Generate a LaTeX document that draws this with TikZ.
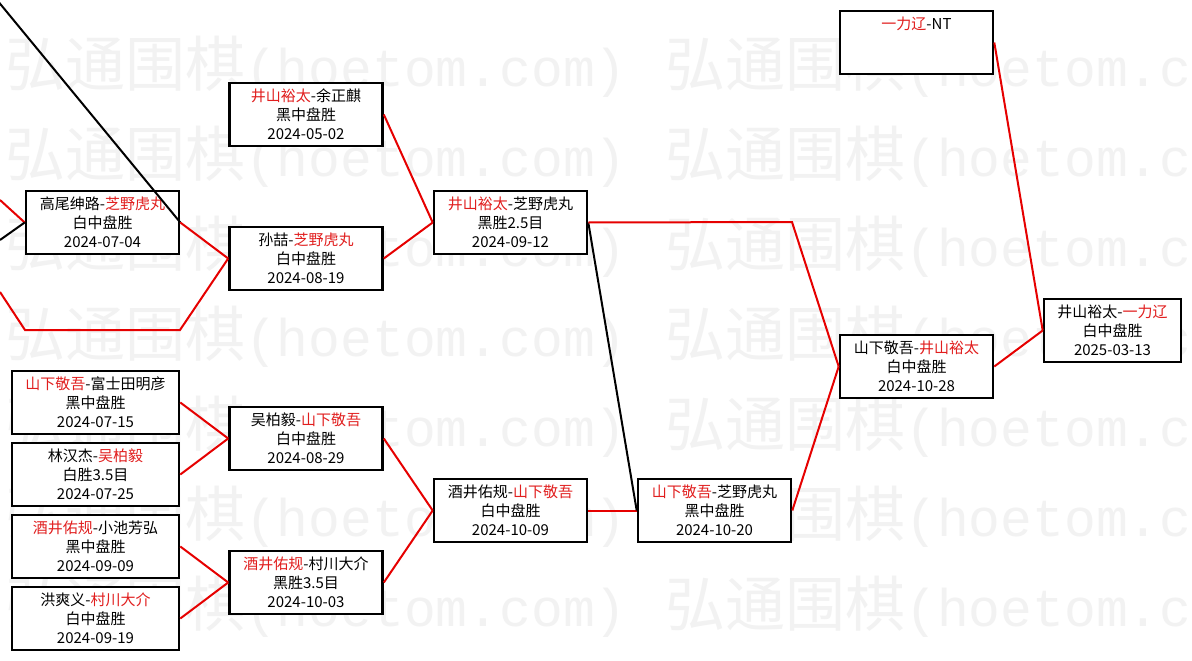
\documentclass[tikz,border=0pt]{standalone}
\usepackage{fontspec}
\setmainfont{Noto Sans CJK SC}
\newfontfamily\wmfont{Liberation Mono}
\definecolor{winred}{RGB}{230,0,0}
\definecolor{namered}{RGB}{225,30,30}
\newcommand{\rn}[1]{\textcolor{namered}{#1}}

\begin{document}
\begin{tikzpicture}[x=1pt,y=-1pt,
    match/.style={draw, line width=2.6pt, fill=white, minimum width=153pt, minimum height=63pt,
      inner sep=0pt, align=center, font=\fontsize{15}{19}\selectfont},
    wide/.style={minimum width=167pt},
    narrow/.style={minimum width=137pt},
    win/.style={winred, line width=2pt},
    lose/.style={black, line width=2pt},
    watermark/.style={anchor=west, inner sep=0pt, text=black!5}]
    \useasboundingbox[fill=white] (0,0) rectangle (1192,661);
    % Watermark
    \foreach \r in {0,...,6}
      \foreach \c in {0,1}
        \node[watermark] (wm-\r-\c) at (5+660*\c, 67+90*\r)
          {\fontsize{60}{60}\selectfont 弘通围棋\wmfont\fontsize{53}{53}\selectfont(hoetom.com)};
    % Left column
    \node[match] (takao) at (102.5,222.5) {高尾绅路-\rn{芝野虎丸}\\白中盘胜\\2024-07-04};
    \node[match,wide] (fujita) at (95.5,402.5) {\rn{山下敬吾}-富士田明彦\\黑中盘胜\\2024-07-15};
    \node[match,wide] (lin) at (95.5,474.5) {林汉杰-\rn{吴柏毅}\\白胜3.5目\\2024-07-25};
    \node[match,wide] (koike) at (95.5,546.5) {\rn{酒井佑规}-小池芳弘\\黑中盘胜\\2024-09-09};
    \node[match,wide] (hong) at (95.5,618.5) {洪爽义-\rn{村川大介}\\白中盘胜\\2024-09-19};
    % Second column
    \node[match] (yu) at (306,114.5) {\rn{井山裕太}-余正麒\\黑中盘胜\\2024-05-02};
    \node[match] (sun) at (306,258.5) {孙喆-\rn{芝野虎丸}\\白中盘胜\\2024-08-19};
    \node[match] (wu) at (306,438.5) {吴柏毅-\rn{山下敬吾}\\白中盘胜\\2024-08-29};
    \node[match] (murakawa) at (306,582.5) {\rn{酒井佑规}-村川大介\\黑胜3.5目\\2024-10-03};
    % Third column
    \node[match] (shibanoA) at (510.5,222.5) {\rn{井山裕太}-芝野虎丸\\黑胜2.5目\\2024-09-12};
    \node[match] (sakai) at (510.5,510.5) {酒井佑规-\rn{山下敬吾}\\白中盘胜\\2024-10-09};
    % Fourth column
    \node[match] (shibanoB) at (714.5,510.5) {\rn{山下敬吾}-芝野虎丸\\黑中盘胜\\2024-10-20};
    % Fifth column
    \node[match] (nt) at (916.5,42.5) {\rn{一力辽}-NT\\~\\~};
    \node[match] (yamashita) at (916.5,366.5) {山下敬吾-\rn{井山裕太}\\白中盘胜\\2024-10-28};
    % Final
    \node[match,narrow] (final) at (1112.5,330.5) {井山裕太-\rn{一力辽}\\白中盘胜\\2025-03-13};
    % Loose ends
    \coordinate (inA) at (0,200);
    \coordinate (inB) at (0,240);
    \coordinate (inC) at (0,292);
    \coordinate (bendC) at (25,330);
    \coordinate (bendD) at (180,330);
    \coordinate (topL) at (-3,0);
    \coordinate (bendE) at (792,222);
    % Connectors
    \draw[win] (inA) -- (takao.west);
    \draw[lose] (inB) -- (takao.west);
    \draw[lose] (topL) -- (takao.east);
    \draw[win] (inC) -- (bendC) -- (bendD) -- (sun.west);
    \draw[win] (takao.east) -- (sun.west);
    \draw[win] (yu.east) -- (shibanoA.west);
    \draw[win] (sun.east) -- (shibanoA.west);
    \draw[win] (fujita.east) -- (wu.west);
    \draw[win] (lin.east) -- (wu.west);
    \draw[win] (koike.east) -- (murakawa.west);
    \draw[win] (hong.east) -- (murakawa.west);
    \draw[win] (wu.east) -- (sakai.west);
    \draw[win] (murakawa.east) -- (sakai.west);
    \draw[win] (sakai.east) -- (shibanoB.west);
    \draw[lose] (shibanoA.east) -- (shibanoB.west);
    \draw[win] (shibanoA.east) -- (bendE) -- (yamashita.west);
    \draw[win] (shibanoB.east) -- (yamashita.west);
    \draw[win] (nt.east) -- (final.west);
    \draw[win] (yamashita.east) -- (final.west);
\end{tikzpicture}
\end{document}
